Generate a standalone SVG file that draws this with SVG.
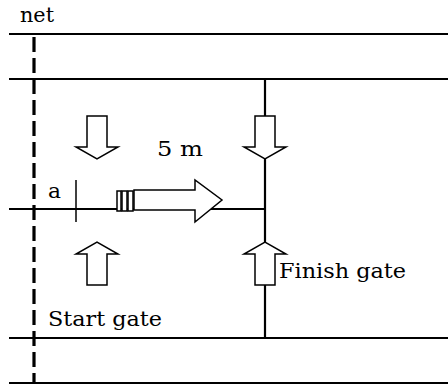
<svg xmlns="http://www.w3.org/2000/svg" width="448" height="384" viewBox="0 0 448 384">
<style>
.ln{stroke:#000;stroke-width:2.2;fill:none}
.hol{stroke:#000;stroke-width:1.5;fill:#fff;stroke-linejoin:miter}
.t{font-family:"DejaVu Serif","Liberation Serif",serif;font-size:21px;fill:#000}
</style>
<defs>
<path id="down" d="M-10,-43 H10 V-12 H21 L0,0 L-21,-12 H-10 Z"/>
</defs>
<rect width="448" height="384" fill="#fff"/>
<g id="connectors">
<line class="ln" x1="9" y1="34" x2="448" y2="34"/>
<line class="ln" x1="9" y1="79" x2="448" y2="79"/>
<line class="ln" x1="9" y1="338" x2="448" y2="338"/>
<line class="ln" x1="9" y1="383" x2="448" y2="383"/>
<line class="ln" x1="9" y1="209" x2="265" y2="209"/>
<line class="ln" x1="265" y1="79" x2="265" y2="338"/>
<line x1="34" y1="37" x2="34" y2="384" stroke="#000" stroke-width="3.2" stroke-dasharray="15 6"/>
<line x1="76" y1="180" x2="76" y2="222" stroke="#000" stroke-width="1.5"/>
</g>
<g id="start-top-arrow"><use href="#down" class="hol" transform="translate(97,159)"/></g>
<g id="finish-top-arrow"><use href="#down" class="hol" transform="translate(265,159)"/></g>
<g id="start-bottom-arrow"><use href="#down" class="hol" transform="translate(97,242) scale(1,-1)"/></g>
<g id="finish-bottom-arrow"><use href="#down" class="hol" transform="translate(265,242) scale(1,-1)"/></g>
<g id="shuttle">
<rect class="hol" x="117" y="191" width="4" height="20"/>
<rect class="hol" x="122" y="191" width="5" height="20"/>
<rect class="hol" x="128" y="191" width="5" height="20"/>
<path class="hol" d="M134,190 H195 V180 L222,200 L195,222 V210 H134 Z"/>
</g>
<g id="labels">
<text class="t" x="20" y="22" textLength="34" lengthAdjust="spacingAndGlyphs">net</text>
<text class="t" x="157" y="156" textLength="46" lengthAdjust="spacingAndGlyphs">5 m</text>
<text class="t" x="48" y="198" textLength="13" lengthAdjust="spacingAndGlyphs">a</text>
<text class="t" x="279" y="278" textLength="127" lengthAdjust="spacingAndGlyphs">Finish gate</text>
<text class="t" x="48" y="326" textLength="114" lengthAdjust="spacingAndGlyphs">Start gate</text>
</g>
</svg>
